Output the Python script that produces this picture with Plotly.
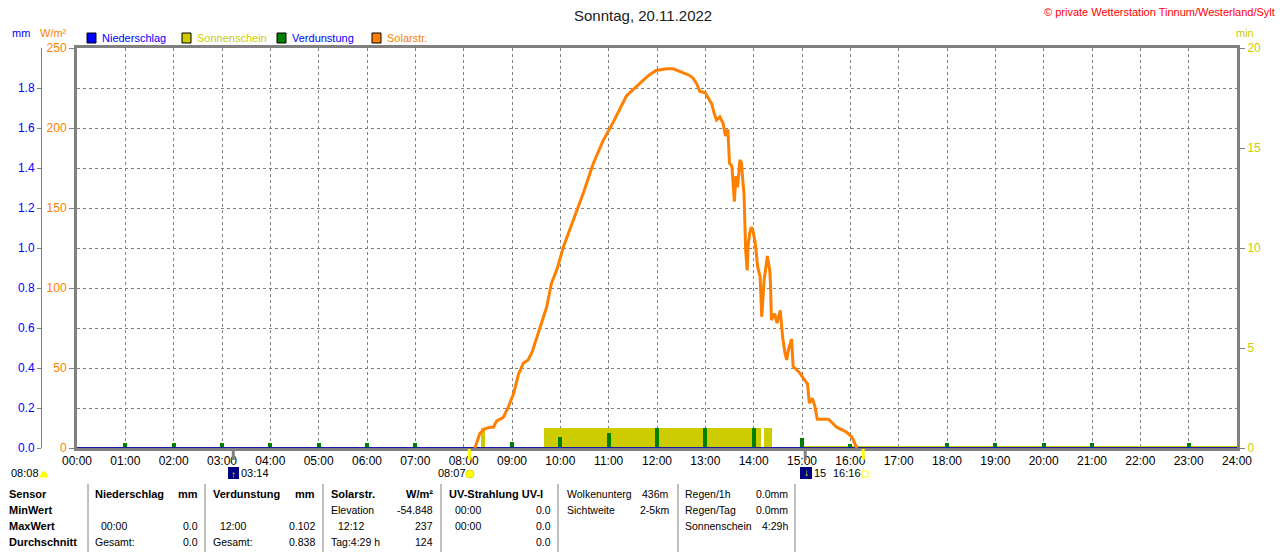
import plotly.graph_objects as go

W, H = 1280, 552
FONT = "Liberation Sans, Arial, sans-serif"
GRAY = "#808080"
ORANGE = "#FF8000"
GOLD = "#CCCC00"
GREEN = "#008000"
BLUE = "#0000FF"
NAVY = "#1a1aa6"

# --- data ----------------------------------------------------------------
X_LABELS = ["00:00", "01:00", "02:00", "03:00", "04:00", "05:00", "06:00", "07:00",
            "08:00", "09:00", "10:00", "11:00", "12:00", "13:00", "14:00", "15:00",
            "16:00", "17:00", "18:00", "19:00", "20:00", "21:00", "22:00", "23:00", "24:00"]

SOLAR_TIMES = ["08:14", "08:17", "08:20", "08:26", "08:33", "08:37", "08:41", "08:49", "08:55",
               "09:02", "09:08", "09:14", "09:20", "09:25", "09:35", "09:43", "09:49", "09:56",
               "10:04", "10:16", "10:29", "10:41", "10:53", "11:06", "11:22", "11:39", "11:50",
               "11:59", "12:12", "12:20", "12:31", "12:40", "12:45", "12:50", "12:53", "13:00",
               "13:08", "13:11", "13:14", "13:18", "13:22", "13:25", "13:28", "13:30", "13:33",
               "13:36", "13:38", "13:40", "13:43", "13:45", "13:46", "13:48", "13:49", "13:50",
               "13:52", "13:53", "13:55", "13:57", "13:59", "14:02", "14:05", "14:08", "14:10",
               "14:13", "14:17", "14:20", "14:21", "14:22", "14:26", "14:29", "14:33", "14:35",
               "14:36", "14:39", "14:41", "14:43", "14:47", "14:49", "14:53", "14:57", "15:04",
               "15:07", "15:09", "15:13", "15:16", "15:19", "15:33", "15:43", "15:55", "16:02",
               "16:08"]
SOLAR_WM2 = [0, 5, 9, 12, 13, 13, 17, 19, 25,
             34, 46, 53, 55, 60, 76, 88, 103, 112,
             126, 142, 160, 178, 192, 204, 220, 228, 233,
             236, 237, 237, 235, 233, 231, 227, 223, 222,
             215, 209, 205, 207, 203, 195, 199, 178, 176,
             154, 170, 163, 180, 178, 170, 159, 142, 124,
             111, 126, 134, 138, 136, 128, 113, 107, 82,
             105, 120, 111, 101, 80, 84, 78, 86, 71,
             69, 59, 55, 61, 68, 51, 49, 47, 42,
             40, 28, 31, 26, 18, 18, 13, 10, 7,
             0]

SUN_START = ["08:22", "09:40", "14:13"]
SUN_END = ["08:26", "14:09", "14:23"]
SUN_MIN = [1, 1, 1]
SUN_ZERO_TIMES = ["15:00", "24:00"]
SUN_ZERO_VALS = [0, 0]

EVAP_HOURS = [1, 2, 3, 4, 5, 6, 7, 9, 10, 11, 12, 13, 14, 15, 16, 18, 19, 20, 21, 23]
EVAP_MM = [0.025, 0.025, 0.025, 0.025, 0.025, 0.025, 0.025, 0.03, 0.055, 0.077,
           0.102, 0.1, 0.1, 0.05, 0.02, 0.025, 0.025, 0.025, 0.025, 0.025]

RAIN_TIMES = ["00:00", "24:00"]
RAIN_MM = [0.0, 0.0]

# sun / moon events below the time axis
EVENT_TIMES = ["03:14", "08:07", "15:04", "16:16"]
EVENT_COLORS = [GRAY, "#FFFF00", GRAY, "#FFFF00"]


def hrs(t):
    h, m = t.split(":")
    return int(h) + int(m) / 60


def px(x):
    return x / W


def py(y):
    return 1 - y / H


fig = go.Figure()

# sunshine (min axis, base y)
s0 = [hrs(t) for t in SUN_START]
s1 = [hrs(t) for t in SUN_END]
fig.add_trace(go.Bar(
    x=[(a + b) / 2 for a, b in zip(s0, s1)], width=[b - a for a, b in zip(s0, s1)],
    y=SUN_MIN, marker=dict(color=GOLD, line=dict(width=0)), yaxis="y", hoverinfo="skip"))
fig.add_trace(go.Scatter(
    x=[hrs(t) for t in SUN_ZERO_TIMES], y=SUN_ZERO_VALS, mode="lines",
    line=dict(color=GOLD, width=4), yaxis="y", hoverinfo="skip"))

# evaporation + rain (mm axis)
fig.add_trace(go.Bar(
    x=EVAP_HOURS, y=EVAP_MM, width=0.08,
    marker=dict(color=GREEN, line=dict(width=0)), yaxis="y2"))
fig.add_trace(go.Scatter(
    x=[hrs(t) for t in RAIN_TIMES], y=RAIN_MM, mode="lines",
    line=dict(color=NAVY, width=2), yaxis="y2"))

# solar radiation (W/m² axis)
fig.add_trace(go.Scatter(
    x=[hrs(t) for t in SOLAR_TIMES], y=SOLAR_WM2, mode="lines",
    line=dict(color=ORANGE, width=3), yaxis="y3"))

ydom = [py(448), py(48)]
dash = "3px,3px"

fig.update_layout(
    width=W, height=H, margin=dict(l=0, r=0, t=0, b=0, pad=0, autoexpand=False),
    paper_bgcolor="white", plot_bgcolor="white",
    showlegend=False, bargap=0,
    font=dict(family=FONT, size=12, color="black"),
    xaxis=dict(domain=[px(77), px(1237)], range=[0, 24], automargin=False,
               tickmode="array", tickvals=list(range(25)), ticktext=X_LABELS,
               showgrid=True, gridcolor=GRAY, griddash=dash, gridwidth=1,
               showline=True, mirror=True, linecolor=GRAY, linewidth=3,
               ticks="", zeroline=False, tickfont=dict(size=12, color="black")),
    yaxis=dict(domain=ydom, range=[0, 20], side="right", anchor="x", automargin=False,
               tickvals=[0, 5, 10, 15, 20], tickfont=dict(color=GOLD, size=12),
               ticks="outside", ticklen=5, tickcolor=GRAY,
               showline=True, linecolor=GRAY, linewidth=3,
               showgrid=False, zeroline=False),
    yaxis2=dict(overlaying="y", anchor="free", position=px(41), side="left", automargin=False,
                range=[0, 2], tickvals=[0, 0.2, 0.4, 0.6, 0.8, 1.0, 1.2, 1.4, 1.6, 1.8],
                tickformat=".1f", tickfont=dict(color=BLUE, size=12),
                ticks="outside", ticklen=4, tickcolor=GRAY,
                showline=True, linecolor=GRAY, linewidth=1,
                showgrid=False, zeroline=False),
    yaxis3=dict(overlaying="y", anchor="x", side="left", range=[0, 250], automargin=False,
                tickvals=[0, 50, 100, 150, 200, 250], tickfont=dict(color=ORANGE, size=12),
                ticks="outside", ticklen=5, tickcolor=GRAY,
                showline=True, linecolor=GRAY, linewidth=3,
                showgrid=True, gridcolor=GRAY, griddash=dash, gridwidth=1,
                minor=dict(dtick=25, tick0=0, showgrid=True, gridcolor=GRAY,
                           griddash=dash, gridwidth=1, ticks=""),
                zeroline=False),
)

ann = []
shapes = []


def txt(x, y, s, color="black", size=11, anchor="left", bold=False):
    ann.append(dict(x=px(x), y=py(y), xref="paper", yref="paper", text=f"<b>{s}</b>" if bold else s,
                    showarrow=False, xanchor=anchor, yanchor="middle", borderpad=0,
                    font=dict(color=color, size=size, family=FONT)))


# header
txt(643, 15, "Sonntag, 20.11.2022", color="#202020", size=15, anchor="center")
txt(1276, 12, "© private Wetterstation Tinnum/Westerland/Sylt", color="#FF0000", size=11, anchor="right")
txt(21, 33, "mm", color=BLUE, size=11, anchor="center")
txt(53, 33, "W/m²", color=ORANGE, size=11, anchor="center")
txt(1245, 33, "min", color=GOLD, size=11, anchor="center")

# legend
LEGEND = [("Niederschlag", BLUE, BLUE, 87), ("Sonnenschein", GOLD, GOLD, 182),
          ("Verdunstung", GREEN, BLUE, 277), ("Solarstr.", ORANGE, ORANGE, 372)]
for name, box, tcol, lx in LEGEND:
    shapes.append(dict(type="rect", xref="paper", yref="paper", x0=px(lx), x1=px(lx + 9),
                       y0=py(43), y1=py(33), fillcolor=box, line=dict(color="black", width=1)))
    txt(lx + 14, 38, name, color=tcol, size=11)

# event markers below the axis
for t, c in zip(EVENT_TIMES, EVENT_COLORS):
    shapes.append(dict(type="line", xref="x", yref="paper", x0=hrs(t), x1=hrs(t),
                       y0=py(460), y1=py(449), line=dict(color=c, width=3)))
txt(10, 473, "08:08", size=11)
shapes.append(dict(type="path", xref="paper", yref="paper",
                   path=f"M {px(40)},{py(477)} Q {px(44)},{py(466)} {px(48)},{py(477)} Z",
                   fillcolor="#FFFF00", line=dict(color="#FFFF00", width=1)))
shapes.append(dict(type="rect", xref="paper", yref="paper", x0=px(228), x1=px(239),
                   y0=py(479), y1=py(467), fillcolor="#000080", line=dict(width=0)))
txt(233.5, 474, "↑", color="#FFFF00", size=10, anchor="center", bold=True)
txt(240, 473, "03:14", size=11)
txt(437, 473, "08:07", size=11)
shapes.append(dict(type="circle", xref="paper", yref="paper", x0=px(466), x1=px(474),
                   y0=py(478), y1=py(470), fillcolor="#FFFF00", line=dict(color="#E0E000", width=1)))
shapes.append(dict(type="rect", xref="paper", yref="paper", x0=px(800), x1=px(812),
                   y0=py(479), y1=py(467), fillcolor="#000080", line=dict(width=0)))
txt(806, 472, "↓", color="#FFFF00", size=10, anchor="center", bold=True)
txt(813, 473, "15", size=11)
txt(832, 473, "16:16", size=11)
shapes.append(dict(type="rect", xref="paper", yref="paper", x0=px(862), x1=px(868),
                   y0=py(477), y1=py(471), line=dict(color="#FFFF00", width=1)))

# table below the chart
for sx in [88, 205, 323, 441, 558, 678, 795]:
    shapes.append(dict(type="line", xref="paper", yref="paper", x0=px(sx), x1=px(sx),
                       y0=py(484), y1=py(552), line=dict(color=GRAY, width=1)))

R1, R2, R3, R4 = 494, 510, 526, 542
TABLE = [
    (8, R1, "Sensor", "left", True), (8, R2, "MinWert", "left", True),
    (8, R3, "MaxWert", "left", True), (8, R4, "Durchschnitt", "left", True),
    (94, R1, "Niederschlag", "left", True), (199, R1, "mm", "right", True),
    (100, R3, "00:00", "left", False), (199, R3, "0.0", "right", False),
    (94, R4, "Gesamt:", "left", False), (199, R4, "0.0", "right", False),
    (212, R1, "Verdunstung", "left", True), (316, R1, "mm", "right", True),
    (219, R3, "12:00", "left", False), (316, R3, "0.102", "right", False),
    (212, R4, "Gesamt:", "left", False), (316, R4, "0.838", "right", False),
    (330, R1, "Solarstr.", "left", True), (434, R1, "W/m²", "right", True),
    (330, R2, "Elevation", "left", False), (434, R2, "-54.848", "right", False),
    (337, R3, "12:12", "left", False), (434, R3, "237", "right", False),
    (330, R4, "Tag:4:29 h", "left", False), (434, R4, "124", "right", False),
    (448, R1, "UV-Strahlung UV-I", "left", True),
    (454, R2, "00:00", "left", False), (552, R2, "0.0", "right", False),
    (454, R3, "00:00", "left", False), (552, R3, "0.0", "right", False),
    (552, R4, "0.0", "right", False),
    (566, R1, "Wolkenunterg", "left", False), (670, R1, "436m", "right", False),
    (566, R2, "Sichtweite", "left", False), (670, R2, "2-5km", "right", False),
    (684, R1, "Regen/1h", "left", False), (789, R1, "0.0mm", "right", False),
    (684, R2, "Regen/Tag", "left", False), (789, R2, "0.0mm", "right", False),
    (684, R3, "Sonnenschein", "left", False), (789, R3, "4:29h", "right", False),
]
for x, y, s, a, b in TABLE:
    txt(x, y, s, anchor=a, bold=b, size=11 if b else 10.5)

fig.update_layout(annotations=ann, shapes=shapes)

# the page's default 8px body margin would shift the fixed-size figure
fig.write_html("out.html", config={"displayModeBar": False},
               post_script="document.body.style.margin='0';")
